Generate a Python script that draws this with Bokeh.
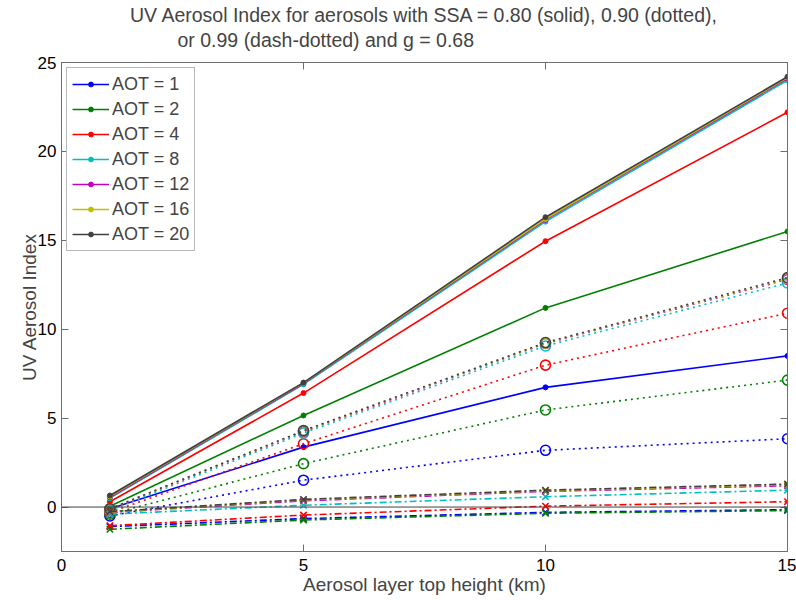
from bokeh.plotting import figure
from bokeh.models import (Range1d, FixedTicker, LinearAxis, Span, Legend,
                          LegendItem, Title)
from bokeh.embed import file_html
from bokeh.resources import INLINE

# ---------------- data ----------------
heights = [1, 5, 10, 15]
aot_labels = ["AOT = 1", "AOT = 2", "AOT = 4", "AOT = 8",
              "AOT = 12", "AOT = 16", "AOT = 20"]
colors = ["#0000ff", "#008000", "#ff0000", "#00bfbf",
          "#bf00bf", "#bfbf00", "#404040"]

# SSA = 0.80 (solid)
ssa080 = [
    [-0.10, 3.37, 6.73, 8.50],
    [0.05, 5.15, 11.20, 15.50],
    [0.30, 6.41, 14.95, 22.20],
    [0.50, 6.90, 16.05, 24.00],
    [0.55, 6.95, 16.15, 24.10],
    [0.60, 6.98, 16.20, 24.15],
    [0.65, 7.00, 16.30, 24.20],
]
# SSA = 0.90 (dotted)
ssa090 = [
    [-0.50, 1.51, 3.19, 3.84],
    [-0.40, 2.44, 5.46, 7.14],
    [-0.30, 3.56, 7.98, 10.90],
    [-0.20, 4.16, 9.06, 12.60],
    [-0.10, 4.25, 9.20, 12.80],
    [-0.10, 4.28, 9.22, 12.85],
    [-0.10, 4.30, 9.25, 12.90],
]
# SSA = 0.99 (dash-dotted)
ssa099 = [
    [-1.10, -0.65, -0.30, -0.15],
    [-1.25, -0.73, -0.35, -0.20],
    [-1.05, -0.45, 0.05, 0.30],
    [-0.40, 0.10, 0.58, 0.95],
    [-0.30, 0.35, 0.88, 1.20],
    [-0.28, 0.40, 0.92, 1.25],
    [-0.26, 0.43, 0.95, 1.29],
]

x_ticks = [0, 5, 10, 15]
y_ticks = [0, 5, 10, 15, 20, 25]

FONT = "Liberation Sans"
TICK_FS = "17px"
LAB_FS = "19px"
LEG_FS = "18px"
TITLE_FS = "19.5px"
AXC = "#6e6e6e"

p = figure(width=796, height=600, output_backend="svg", toolbar_location=None,
           x_range=Range1d(0, 15), y_range=Range1d(-2.5, 25),
           min_border_left=61, min_border_right=9, min_border_top=60,
           min_border_bottom=49)
p.grid.visible = False
p.outline_line_color = AXC

def style_axis(ax, labels=True):
    ax.major_tick_in = 7
    ax.major_tick_out = 0
    ax.minor_tick_line_color = None
    ax.axis_line_color = AXC
    ax.major_tick_line_color = AXC
    ax.major_label_text_font = FONT
    ax.major_label_text_font_size = TICK_FS
    ax.major_label_text_color = "black" if labels else None
    ax.axis_label_text_font = FONT
    ax.axis_label_text_font_size = LAB_FS
    ax.axis_label_text_font_style = "normal"

p.xaxis.ticker = FixedTicker(ticks=x_ticks)
p.yaxis.ticker = FixedTicker(ticks=y_ticks)
p.xaxis.axis_label = "Aerosol layer top height (km)"
p.yaxis.axis_label = "UV Aerosol Index"
style_axis(p.xaxis[0])
style_axis(p.yaxis[0])
p.xaxis.major_label_standoff = 7
p.xaxis.axis_label_standoff = 0
p.yaxis.major_label_standoff = 5
p.yaxis.axis_label_standoff = -5

# box ticks on the right and top (no labels)
ax_r = LinearAxis(ticker=FixedTicker(ticks=y_ticks))
style_axis(ax_r, labels=False)
ax_r.major_label_text_font_size = "0px"
ax_r.major_label_standoff = 0
p.add_layout(ax_r, "right")

ax_t = LinearAxis(ticker=FixedTicker(ticks=x_ticks))
style_axis(ax_t, labels=False)
ax_t.major_label_text_font_size = "0px"
ax_t.major_label_standoff = 0
ax_t.axis_label = " "
ax_t.axis_label_text_font_size = "7px"
ax_t.axis_label_standoff = 2
p.add_layout(ax_t, "above")

p.add_layout(Span(location=0, dimension="width", line_color="#404040",
                  line_width=1))

items = []
for i in range(7):
    c = colors[i]
    r1 = p.line(heights, ssa080[i], line_color=c, line_width=1.6)
    r2 = p.scatter(heights, ssa080[i], marker="circle", size=5,
                   fill_color=c, line_color=c)
    items.append(LegendItem(label=aot_labels[i], renderers=[r1, r2]))
for i in range(7):
    c = colors[i]
    p.line(heights, ssa090[i], line_color=c, line_width=1.6,
           line_dash="2 4")
    p.scatter(heights, ssa090[i], marker="circle", size=10,
              fill_color=None, line_color=c, line_width=1.6)
for i in range(7):
    c = colors[i]
    p.line(heights, ssa099[i], line_color=c, line_width=1.6,
           line_dash="7 3 2 3")
    p.scatter(heights, ssa099[i], marker="x", size=9,
              line_color=c, line_width=1.6)

leg = Legend(items=items, location="top_left", margin=5, padding=5,
             spacing=3, glyph_width=37, glyph_height=12, label_height=22,
             label_standoff=3, label_text_font=FONT, label_text_font_size=LEG_FS,
             border_line_color=AXC, background_fill_alpha=1.0)
p.add_layout(leg)

p.add_layout(Title(text="or 0.99 (dash-dotted) and g = 0.68", align="left",
                   offset=116, standoff=0, text_font=FONT,
                   text_font_size=TITLE_FS, text_font_style="normal"), "above")
p.add_layout(Title(text="UV Aerosol Index for aerosols with SSA = 0.80 (solid), 0.90 (dotted),",
                   align="center", offset=-10, standoff=2, text_font=FONT,
                   text_font_size=TITLE_FS, text_font_style="normal"), "above")

open("out.html", "w").write(file_html(p, INLINE))
